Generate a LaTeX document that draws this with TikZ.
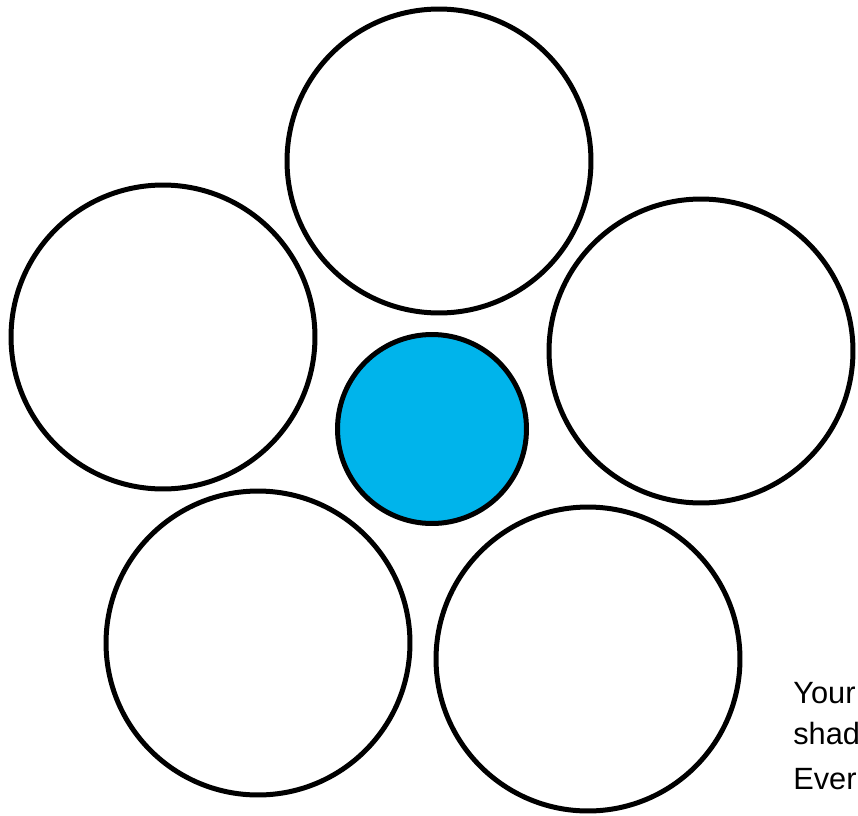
\documentclass[tikz,border=0pt]{standalone}
\usepackage{fontspec}
\setmainfont{Liberation Sans}
\usetikzlibrary{positioning}
\definecolor{coreblue}{RGB}{0,180,235}
\begin{document}
\begin{tikzpicture}[x=0.02cm, y=-0.02cm, lbl/.style={inner sep = 0pt, anchor = base west, font=\fontsize{17.5pt}{21pt}\selectfont}]
\tikzstyle{strand}=[circle, draw, line width=0.1cm, inner sep=0pt, minimum size=6.08cm]
\tikzstyle{core}=[strand, fill=coreblue, minimum size=3.78cm]
\useasboundingbox (0,0) rectangle (858,815);
\node[strand] (t) at (439,161) {};
\node[strand] (l) at (163,337) {};
\node[strand] (r) at (701,351) {};
\node[strand] (bl) at (258,643) {};
\node[strand] (br) at (588,659) {};
\node[core] (c) at (432,429) {};
\node[lbl] (y) at (793,703) {Your};
\node[lbl] (s) at (793,744) {shad};
\node[lbl] (e) at (793,789) {Ever};
\end{tikzpicture}
\end{document}
